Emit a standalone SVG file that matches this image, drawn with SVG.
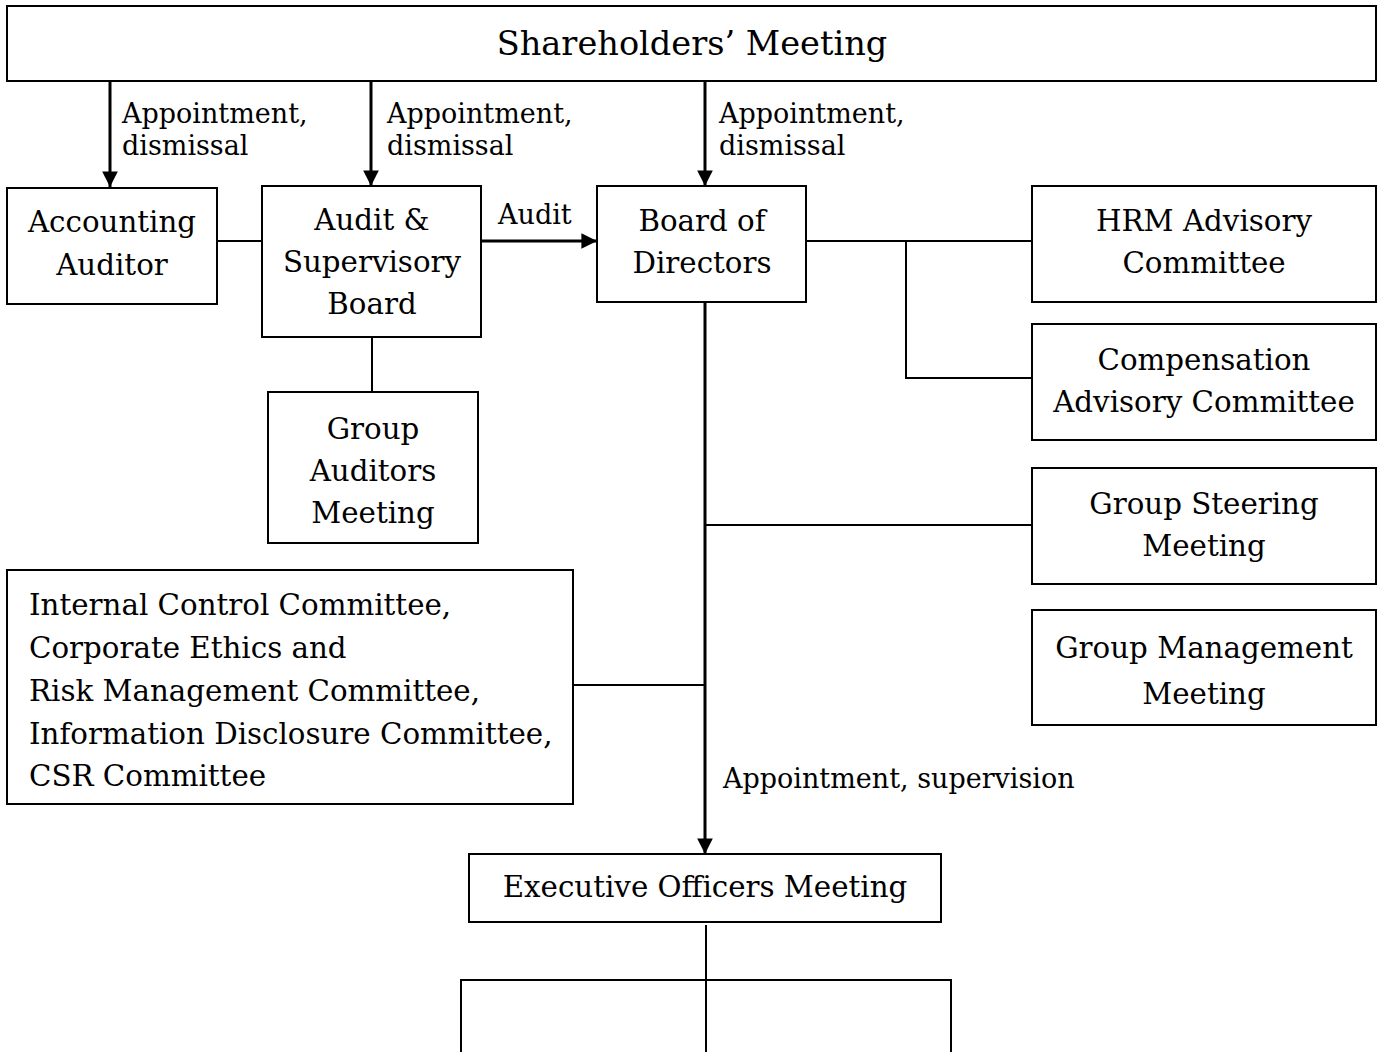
<svg xmlns="http://www.w3.org/2000/svg" width="1384" height="1052" viewBox="0 0 1384 1052">
<defs>
<style>
.box{fill:#fff;stroke:#000;stroke-width:2}
.t{font-family:"DejaVu Serif","Liberation Serif",serif;font-size:29.3px;fill:#000}
.c{text-anchor:middle}
.title{font-size:33.6px}
.lbl{font-size:27px}
.ln{fill:none;stroke:#000;stroke-width:2}
.ar{fill:none;stroke:#000;stroke-width:3}
</style>
<marker id="ah" viewBox="0 0 10 10" refX="10" refY="5" markerWidth="5.2" markerHeight="5.2" markerUnits="strokeWidth" orient="auto">
<path d="M0,0 L10,5 L0,10 z" fill="#000"/>
</marker>
</defs>
<rect width="1384" height="1052" fill="#fff"/>
<g id="connectors">
<line class="ar" x1="110" y1="81" x2="110" y2="187" marker-end="url(#ah)"/>
<line class="ar" x1="371" y1="81" x2="371" y2="186" marker-end="url(#ah)"/>
<line class="ar" x1="705" y1="81" x2="705" y2="186" marker-end="url(#ah)"/>
<line class="ln" x1="217" y1="241" x2="262" y2="241"/>
<line class="ar" x1="481" y1="241" x2="597" y2="241" marker-end="url(#ah)"/>
<line class="ln" x1="806" y1="241" x2="1032" y2="241"/>
<polyline class="ln" points="906,241 906,378 1032,378"/>
<line class="ln" x1="372" y1="337" x2="372" y2="392"/>
<line class="ar" x1="705" y1="302" x2="705" y2="854" marker-end="url(#ah)"/>
<line class="ln" x1="705" y1="525" x2="1032" y2="525"/>
<line class="ln" x1="573" y1="685" x2="705" y2="685"/>
<line class="ln" x1="706" y1="925" x2="706" y2="1052"/>
<polyline class="ln" points="461,1052 461,980 951,980 951,1052"/>
<text class="t lbl" x="122" y="123">Appointment,</text>
<text class="t lbl" x="122" y="155">dismissal</text>
<text class="t lbl" x="387" y="123">Appointment,</text>
<text class="t lbl" x="387" y="155">dismissal</text>
<text class="t lbl" x="719" y="123">Appointment,</text>
<text class="t lbl" x="719" y="155">dismissal</text>
<text class="t lbl" x="498" y="224">Audit</text>
<text class="t lbl" x="723" y="788">Appointment, supervision</text>
</g>
<g id="shareholders">
<rect class="box" x="7" y="6" width="1369" height="75"/>
<text class="t c title" x="692" y="55">Shareholders’ Meeting</text>
</g>
<g id="accounting-auditor">
<rect class="box" x="7" y="188" width="210" height="116"/>
<text class="t c" x="112" y="232">Accounting</text>
<text class="t c" x="112" y="275">Auditor</text>
</g>
<g id="audit-board">
<rect class="box" x="262" y="186" width="219" height="151"/>
<text class="t c" x="372" y="230">Audit &amp;</text>
<text class="t c" x="372" y="272">Supervisory</text>
<text class="t c" x="372" y="314">Board</text>
</g>
<g id="group-auditors">
<rect class="box" x="268" y="392" width="210" height="151"/>
<text class="t c" x="373" y="439">Group</text>
<text class="t c" x="373" y="481">Auditors</text>
<text class="t c" x="373" y="523">Meeting</text>
</g>
<g id="board-of-directors">
<rect class="box" x="597" y="186" width="209" height="116"/>
<text class="t c" x="702" y="231">Board of</text>
<text class="t c" x="702" y="273">Directors</text>
</g>
<g id="hrm">
<rect class="box" x="1032" y="186" width="344" height="116"/>
<text class="t c" x="1204" y="231">HRM Advisory</text>
<text class="t c" x="1204" y="273">Committee</text>
</g>
<g id="compensation">
<rect class="box" x="1032" y="324" width="344" height="116"/>
<text class="t c" x="1204" y="370">Compensation</text>
<text class="t c" x="1204" y="412">Advisory Committee</text>
</g>
<g id="group-steering">
<rect class="box" x="1032" y="468" width="344" height="116"/>
<text class="t c" x="1204" y="514">Group Steering</text>
<text class="t c" x="1204" y="556">Meeting</text>
</g>
<g id="group-management">
<rect class="box" x="1032" y="610" width="344" height="115"/>
<text class="t c" x="1204" y="658">Group Management</text>
<text class="t c" x="1204" y="704">Meeting</text>
</g>
<g id="committees">
<rect class="box" x="7" y="570" width="566" height="234"/>
<text class="t" x="29" y="615">Internal Control Committee,</text>
<text class="t" x="29" y="658">Corporate Ethics and</text>
<text class="t" x="29" y="701">Risk Management Committee,</text>
<text class="t" x="29" y="744">Information Disclosure Committee,</text>
<text class="t" x="29" y="786">CSR Committee</text>
</g>
<g id="executive-officers">
<rect class="box" x="469" y="854" width="472" height="68"/>
<text class="t c" x="705" y="897">Executive Officers Meeting</text>
</g>
</svg>
